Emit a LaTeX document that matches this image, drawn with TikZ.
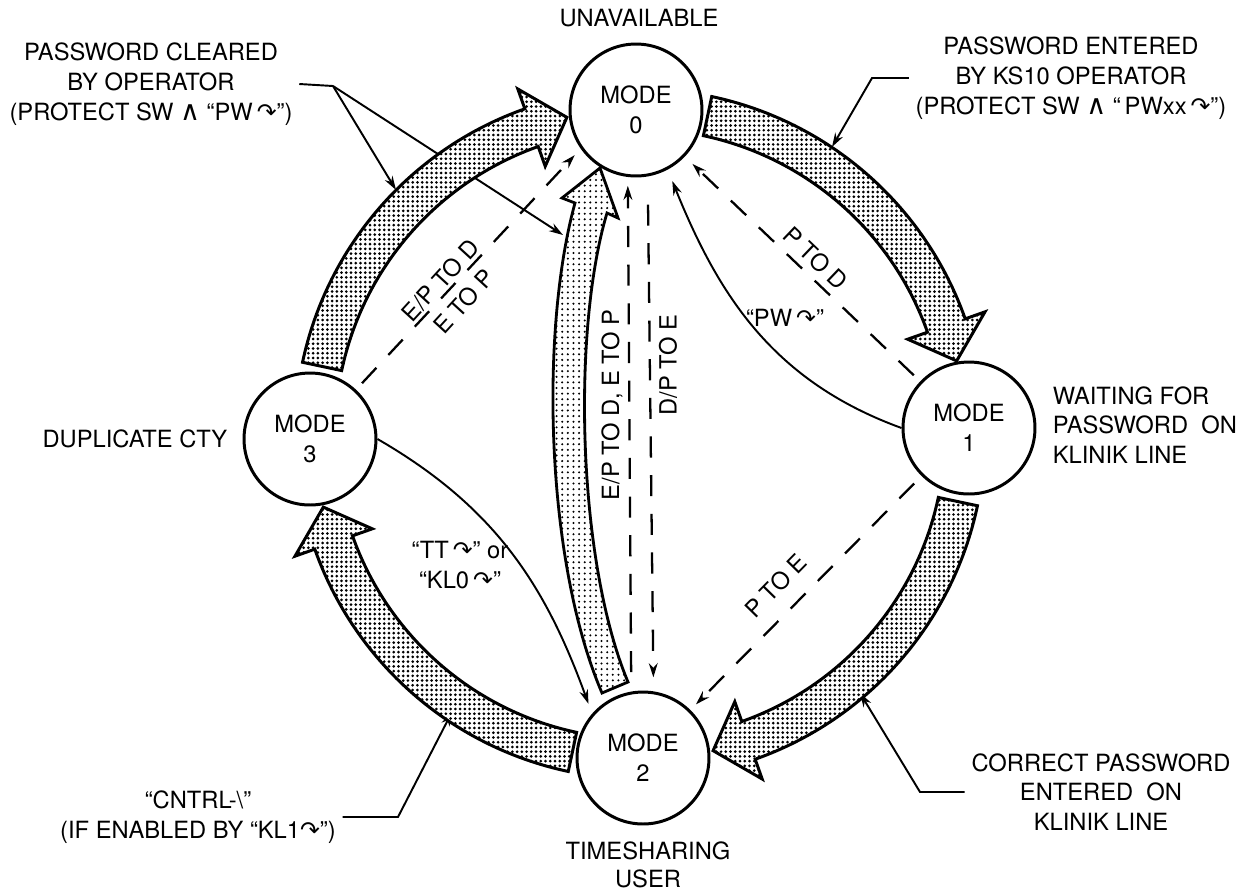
\documentclass[tikz,border=0pt]{standalone}
\usepackage{fontspec}
\setmainfont{TeX Gyre Heros}
\newfontfamily\dvsfont{DejaVu Sans}
\usetikzlibrary{arrows.meta, patterns.meta}
\newcommand{\crt}{{\dvsfont\char"21B7}}
\newcommand{\andsym}{\scalebox{1.15}{\dvsfont\char"2227}}

\begin{document}
\begin{tikzpicture}[x=0.02cm, y=0.02cm, >={Stealth[length=8pt,width=5pt]},
    line width=1.1pt, font=\fontsize{13.5}{17}\selectfont,
    mode/.style={circle, draw, line width=1.7pt, minimum size=2.64cm, inner sep=0pt, align=center},
    band/.style={draw, line width=1.7pt, line join=miter, preaction={fill=white},
        pattern={Dots[distance=2.7pt, radius=0.85pt]}},
    lightband/.style={draw, line width=1.6pt, preaction={fill=white},
        pattern={Dots[distance=3.2pt, radius=0.65pt]}},
    dashline/.style={dash pattern=on 12pt off 10pt, line width=1.3pt},
    note/.style={align=center}]
    \useasboundingbox (0,0) rectangle (1255,-894);

    % the four modes
    \node[mode] (m0) at (636,-110) {MODE\\0};
    \node[mode] (m1) at (969,-428) {MODE\\1};
    \node[mode] (m2) at (643,-758) {MODE\\2};
    \node[mode] (m3) at (310,-439) {MODE\\3};
    \node (t0) at (639,-18) {UNAVAILABLE};
    \node[align=left, anchor=west] (t1) at (1046,-425) {WAITING FOR\\PASSWORD\ \ ON\\KLINIK LINE};
    \node[note, font=\fontsize{13.5}{16}\selectfont] (t2) at (648,-865) {TIMESHARING\\USER};
    \node[anchor=east] (t3) at (234,-439) {DUPLICATE CTY};

    % notes with leaders
    \node[note] (pwc) at (151,-84) {PASSWORD CLEARED\\BY OPERATOR\\(PROTECT SW \andsym\ ``PW\,\crt'')};
    \coordinate (pwcK) at (333,-86);
    \coordinate (pwcA) at (396,-190);
    \coordinate (pwcB) at (563,-235);
    \draw (pwc.east) -- (pwcK);
    \draw[->] (pwcK) -- (pwcA);
    \draw[->] (pwcK) -- (pwcB);

    \node[note] (pwe) at (1071,-78) {PASSWORD ENTERED\\BY KS10 OPERATOR\\(PROTECT SW \andsym\ ``\,PWxx\,\crt'')};
    \coordinate (pweK) at (872,-78);
    \coordinate (pweA) at (832,-147);
    \draw[->] (pwe.west) -- (pweK) -- (pweA);

    \node[note] (cpw) at (1101,-792) {CORRECT PASSWORD\\ENTERED\ \ ON\\KLINIK LINE};
    \coordinate (cpwK) at (920,-792);
    \coordinate (cpwA) at (860,-693);
    \draw[->] (cpw.west) -- (cpwK) -- (cpwA);

    \node[note] (ctl) at (198,-817) {``CNTRL-\textbackslash''\\(IF ENABLED BY ``KL1\crt'')};
    \coordinate (ctlK) at (398,-817);
    \coordinate (ctlA) at (452,-712);
    \draw[->] (ctl.east) -- (ctlK) -- (ctlA);

    % shaded transitions round the ring
    \foreach \k in {0,1,2,3}
        \draw[band, shift={(640,-434)}, rotate=-90*\k]
            (78:345) arc[start angle=78, end angle=19.5, radius=345]
            -- (19.5:366) -- (13:325) -- (19.5:284) -- (19.5:305)
            arc[start angle=19.5, end angle=78, radius=305] -- cycle;
    \draw[lightband] (602,-693) .. controls (545,-560) and (540,-330) .. (575,-203)
        -- (562,-198) -- (600,-168) -- (618,-218) -- (607,-213)
        .. controls (572,-330) and (577,-560) .. (628,-682) -- cycle;

    % dashed transitions
    \draw[->, dashline, shorten <=5pt, shorten >=5pt] (m3) -- (m0.215);
    \draw[->, dashline, shorten <=5pt, shorten >=6pt] (m1) -- (m0);
    \draw[->, dashline, shorten <=6pt, shorten >=4.5pt] (m1) -- (m2);
    \draw[->, dashline, shorten <=11pt, shorten >=5pt] (m2.100) -- (m0.263);
    \draw[->, dashline, shorten <=16pt, shorten >=8pt] (m0.280) -- (m2.81);

    % typed commands
    \draw[->, shorten >=7pt] (m1.180) to[out=160, in=-68] (m0.-62);
    \draw[->, shorten >=6pt] (m3.0) to[out=-30, in=110] (m2.139);

    % labels on the transitions
    \node[rotate=47.5, note, font=\fontsize{13.5}{18}\selectfont] (lEPD) at (452,-291) {E/P TO D\\E TO P};
    \node[rotate=-43.7] (lPD) at (816,-258) {P TO D};
    \node[rotate=45.6] (lPE) at (776,-586) {P TO E};
    \node[rotate=90] (lEP) at (612,-405) {E/P TO D, E TO P};
    \node[rotate=90] (lDP) at (668,-365) {D/P TO E};
    \node (lPW) at (785,-318) {``PW\,\crt''};
    \node[note] (lTT) at (460,-565) {``TT\,\crt'' or\\``KL0\,\crt''};
\end{tikzpicture}
\end{document}
